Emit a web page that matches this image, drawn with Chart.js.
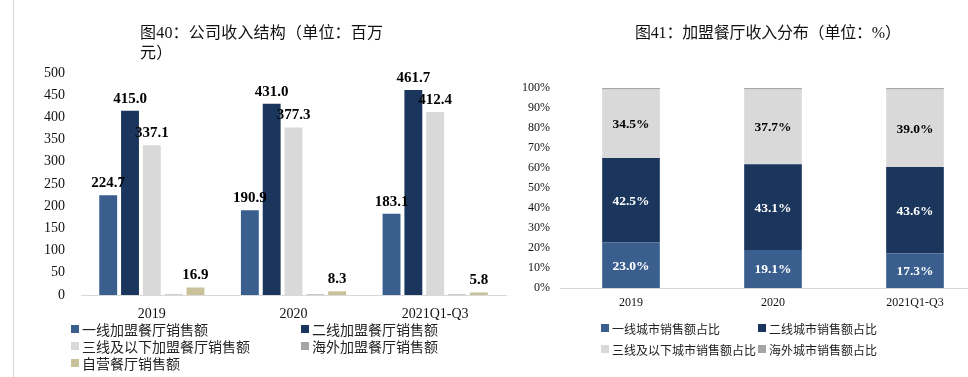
<!DOCTYPE html>
<html>
<head>
<meta charset="utf-8">
<script src="https://cdn.jsdelivr.net/npm/chart.js@4.4.0/dist/chart.umd.min.js"></script>
<style>
html, body { margin:0; padding:0; background:#fff; overflow:hidden; width:968px; height:377px; }
#wrap { position:relative; width:968px; height:377px; overflow:hidden; }
.vline { position:absolute; left:13px; top:0; width:1px; height:377px; background:#d4d4d4; }
#c1 { position:absolute; left:0; top:0; }
#c2 { position:absolute; left:490px; top:0; }
.title { position:absolute; font-family:"Liberation Serif","Noto Sans CJK SC",serif; font-size:16px; color:#111; line-height:20px; white-space:nowrap; }
.lg { position:absolute; font-family:"Noto Sans CJK SC",sans-serif; color:#222; white-space:nowrap; display:flex; align-items:center; }
.lg i { display:inline-block; margin-right:3px; }
</style>
</head>
<body>
<div id="wrap">
  <div class="vline"></div>
  <canvas id="c1" width="515" height="377"></canvas>
  <canvas id="c2" width="500" height="377"></canvas>
  <div class="title" style="left:140px;top:23px;letter-spacing:0.2px;">图40：公司收入结构（单位：百万<br>元）</div>
  <div class="title" style="left:635px;top:23px;letter-spacing:-0.2px;">图41：加盟餐厅收入分布（单位：%）</div>
  <div id="legend1"></div>
  <div id="legend2"></div>
</div>
<script>
// 图40 公司收入结构（百万元）
var categories = ['2019', '2020', '2021Q1-Q3'];
var tier1Sales    = [224.7, 190.9, 183.1];
var tier2Sales    = [415.0, 431.0, 461.7];
var tier3Sales    = [337.1, 377.3, 412.4];
var overseasSales = [1.2, 1.4, 1.3];   // 图上无标注，估计
var selfOwnSales  = [16.9, 8.3, 5.8];
var salesNames = ['一线加盟餐厅销售额', '二线加盟餐厅销售额', '三线及以下加盟餐厅销售额', '海外加盟餐厅销售额', '自营餐厅销售额'];
var salesTicks = [0, 50, 100, 150, 200, 250, 300, 350, 400, 450, 500];

// 图41 加盟餐厅收入分布（%）
var tier1Share    = [23.0, 19.1, 17.3];
var tier2Share    = [42.5, 43.1, 43.6];
var tier3Share    = [34.5, 37.7, 39.0];
var overseasShare = [0.7, 0.7, 0.7];   // 顶部细条，估计
var shareNames = ['一线城市销售额占比', '二线城市销售额占比', '三线及以下城市销售额占比', '海外城市销售额占比'];

var colors = ['#3a5f8f', '#1b365d', '#d9d9d9', '#a5a5a5', '#c9c29a'];
var serif = '"Liberation Serif", "Times New Roman", serif';

// labels drawn on the bars
function makeLabels(src, textColors, font, mode) {
  return {
    id: 'valueLabels',
    afterDatasetsDraw: function(chart) {
      var ctx = chart.ctx;
      ctx.save();
      ctx.font = font;
      ctx.textAlign = 'center';
      chart.data.datasets.forEach(function(ds, di) {
        if (!textColors[di]) return;
        var meta = chart.getDatasetMeta(di);
        meta.data.forEach(function(bar, i) {
          var v = src[di][i];
          ctx.fillStyle = textColors[di];
          if (mode === 'top') {
            ctx.textBaseline = 'alphabetic';
            ctx.fillText(v.toFixed(1), bar.x, bar.y - 8);
          } else {
            ctx.textBaseline = 'middle';
            ctx.fillText(v.toFixed(1) + '%', bar.x, (bar.y + bar.base) / 2 + 1);
          }
        });
      });
      ctx.restore();
    }
  };
}

function buildLegend(el, names, pos, size, fontSize) {
  var html = '';
  names.forEach(function(n, i) {
    var p = pos[i];
    html += '<div class="lg" style="left:' + p[0] + 'px;top:' + (p[1] - 10) + 'px;height:20px;font-size:' + fontSize + 'px;">' +
      '<i style="width:' + size + 'px;height:' + size + 'px;background:' + colors[i] + '"></i>' + n + '</div>';
  });
  document.getElementById(el).innerHTML = html;
}

// ---- 左图
var salesSeries = [tier1Sales, tier2Sales, tier3Sales, overseasSales, selfOwnSales];
new Chart(document.getElementById('c1'), {
  type: 'bar',
  data: {
    labels: categories,
    datasets: salesSeries.map(function(d, i) {
      return { label: salesNames[i], data: d, backgroundColor: colors[i], borderWidth: 0,
               categoryPercentage: 0.77, barPercentage: 0.82 };
    })
  },
  options: {
    responsive: false,
    animation: false,
    layout: { padding: { left: 0, right: 9, top: 73, bottom: 57 } },
    plugins: { legend: { display: false }, tooltip: { enabled: false } },
    scales: {
      x: {
        grid: { display: false, drawTicks: false },
        border: { display: true, color: '#d9d9d9', width: 1 },
        ticks: { color: '#111', font: { family: serif, size: 14 }, padding: 11 },
        afterFit: function(s) { s.height = 25; }
      },
      y: {
        min: 0, max: 500,
        afterBuildTicks: function(s) { s.ticks = salesTicks.map(function(v) { return { value: v }; }); },
        grid: { display: false, drawTicks: false },
        border: { display: false },
        ticks: { color: '#111', font: { family: serif, size: 14 }, padding: 16 },
        afterFit: function(s) { s.width = 81; }
      }
    }
  },
  plugins: [makeLabels(salesSeries, ['#000', '#000', '#000', null, '#000'], 'bold 15px ' + serif, 'top')]
});

// ---- 右图（100%堆积）
var shareSeries = [tier1Share, tier2Share, tier3Share, overseasShare];
var shareTotals = categories.map(function(c, i) {
  return tier1Share[i] + tier2Share[i] + tier3Share[i] + overseasShare[i];
});
new Chart(document.getElementById('c2'), {
  type: 'bar',
  data: {
    labels: categories,
    datasets: shareSeries.map(function(d, i) {
      return { label: shareNames[i],
               data: d.map(function(v, j) { return v / shareTotals[j] * 100; }),
               backgroundColor: colors[i], borderWidth: 0,
               categoryPercentage: 1, barPercentage: 0.406 };
    })
  },
  options: {
    responsive: false,
    animation: false,
    layout: { padding: { left: 0, right: 4, top: 88, bottom: 59 } },
    plugins: { legend: { display: false }, tooltip: { enabled: false } },
    scales: {
      x: {
        stacked: true,
        grid: { display: false, drawTicks: false },
        border: { display: true, color: '#d9d9d9', width: 1 },
        ticks: { color: '#111', font: { family: serif, size: 12 }, padding: 8 },
        afterFit: function(s) { s.height = 30; }
      },
      y: {
        stacked: true,
        min: 0, max: 100,
        grid: { display: false, drawTicks: false },
        border: { display: false },
        ticks: { stepSize: 10, color: '#111', font: { family: serif, size: 12 }, padding: 10,
                 callback: function(v) { return v + '%'; } },
        afterFit: function(s) { s.width = 70; }
      }
    }
  },
  plugins: [makeLabels(shareSeries, ['#fff', '#fff', '#000', null], 'bold 13.5px ' + serif, 'mid')]
});

buildLegend('legend1', salesNames, [[71, 329], [301, 329], [71, 346], [301, 346], [71, 363]], 8, 14);
buildLegend('legend2', shareNames, [[601, 328], [758, 328], [601, 349], [758, 349]], 8, 12);
</script>
</body>
</html>
